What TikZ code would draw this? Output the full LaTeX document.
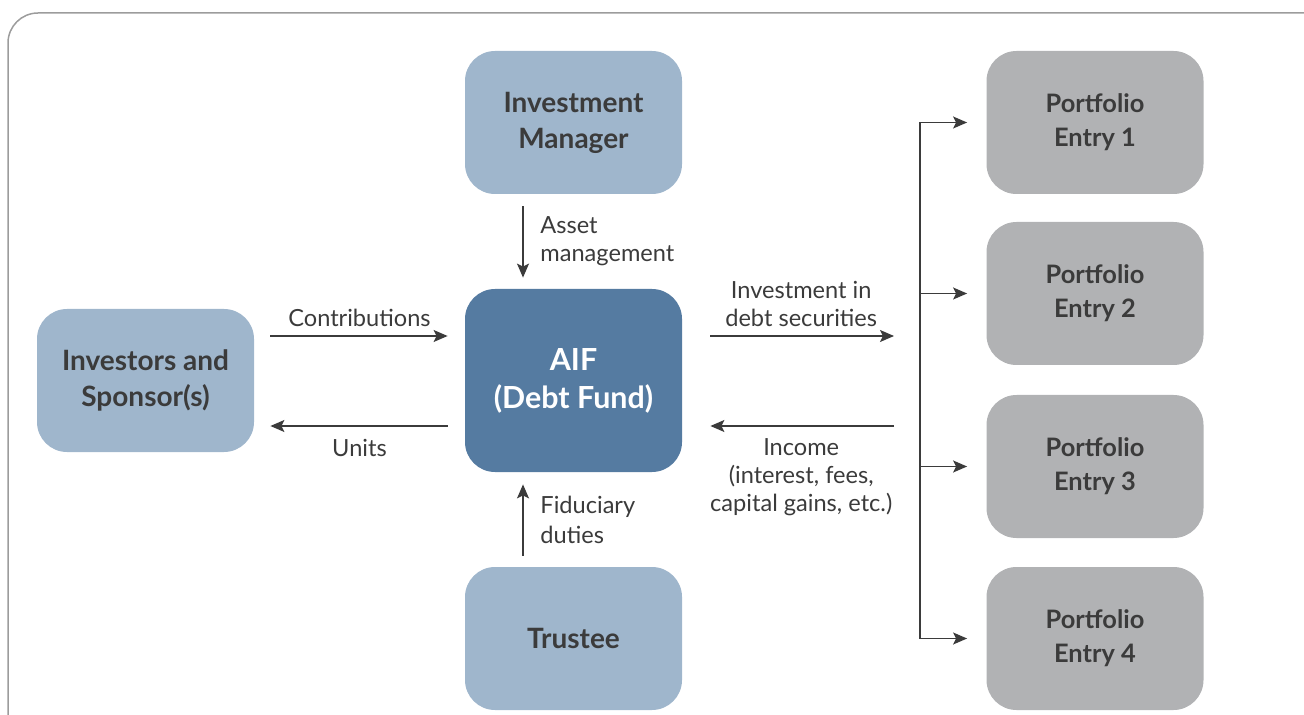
\documentclass[tikz,border=0pt]{standalone}
\usepackage{fontspec}
\setmainfont{Lato}
\usetikzlibrary{arrows.meta}

\definecolor{partyblue}{HTML}{9FB6CC}
\definecolor{fundblue}{HTML}{557BA1}
\definecolor{entrygray}{HTML}{B1B2B4}
\definecolor{textgray}{HTML}{3B3B3B}
\definecolor{framegray}{HTML}{9C9C9C}

\tikzset{
  partybox/.style={fill=partyblue, rounded corners=15pt, minimum width=108.5pt,
    minimum height=71.5pt, align=center, text=textgray,
    font=\bfseries\fontsize{14}{18}\selectfont},
  fundbox/.style={partybox, fill=fundblue, text=white, minimum height=91.5pt,
    font=\bfseries\fontsize{15.2}{19}\selectfont},
  entrybox/.style={partybox, fill=entrygray, font=\bfseries\fontsize{12.7}{17}\selectfont},
  flow/.style={draw=textgray, line width=0.75pt,
    -{Stealth[length=7pt, width=6pt, inset=1.5pt]}},
  flowlabel/.style={text=textgray, align=center, font=\fontsize{11.8}{14}\selectfont}
}

\begin{document}
\begin{tikzpicture}[x=0.5pt, y=-0.5pt]
    \useasboundingbox (0,0) rectangle (1304,715);
    % Outer frame, cut by the page edge
    \draw[framegray, line width=0.75pt, rounded corners=15pt] (8,13) rectangle (1340,745);

    % Parties around the fund
    \node[partybox] (investors) at (145.5,380.5) {Investors and\\Sponsor(s)};
    \node[partybox] (manager) at (573.5,122.5) {Investment\\Manager};
    \node[fundbox] (aif) at (573.5,380.5) {AIF\\(Debt Fund)};
    \node[partybox] (trustee) at (573.5,638.5) {Trustee};

    % Portfolio entries
    \foreach \n/\y in {1/122.5, 2/293.5, 3/466.5, 4/638.5} {
        \node[entrybox] (entry\n) at (1095,\y) {Portfolio\\Entry \n};
    }

    % Flows between investors and fund
    \draw[flow, shorten <=8pt, shorten >=8.5pt] ([yshift=22.25pt]investors.east) -- ([yshift=22.25pt]aif.west)
        node[flowlabel, midway, above=1pt] {Contributions};
    \draw[flow, shorten <=8.5pt, shorten >=8pt] ([yshift=-22.75pt]aif.west) -- ([yshift=-22.75pt]investors.east)
        node[flowlabel, midway, below=3pt] {Units};

    % Manager and trustee
    \draw[flow, shorten <=6pt, shorten >=5.5pt] ([xshift=-25.25pt]manager.south) -- ([xshift=-25.25pt]aif.north)
        node[flowlabel, midway, right=5pt, align=left] {Asset\\management};
    \draw[flow, shorten <=5.5pt, shorten >=6pt] ([xshift=-25.25pt]trustee.north) -- ([xshift=-25.25pt]aif.south)
        node[flowlabel, midway, right=5pt, align=left, font=\fontsize{11.8}{15}\selectfont] {Fiduciary\\duties};

    % Trunk to the portfolio entries
    \coordinate (trunk) at (920,380.5);
    \draw[textgray, line width=0.75pt] (trunk |- entry1) -- (trunk |- entry4);
    \foreach \n in {1,...,4} {
        \draw[flow, shorten >=9.5pt] (trunk |- entry\n.west) -- (entry\n.west);
    }

    % Flows between fund and portfolio
    \draw[flow, shorten <=14pt, shorten >=13pt] ([yshift=22.25pt]aif.east) -- ([yshift=22.25pt]trunk)
        node[flowlabel, midway, above=1pt] {Investment in\\debt securities};
    \draw[flow, shorten <=13pt, shorten >=14pt] ([yshift=-22.75pt]trunk) -- ([yshift=-22.75pt]aif.east)
        node[flowlabel, midway, below=2.5pt] {Income\\(interest, fees,\\capital gains, etc.)};
\end{tikzpicture}
\end{document}
